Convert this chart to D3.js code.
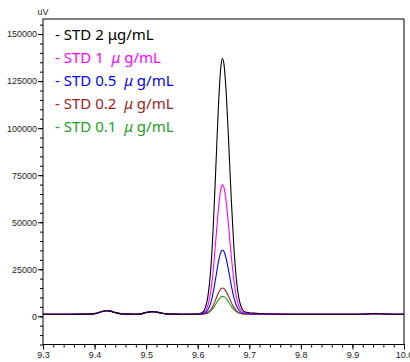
<!DOCTYPE html>
<html>
<head>
<meta charset="utf-8">
<script src="https://cdn.jsdelivr.net/npm/d3@7"></script>
<style>
  html, body { margin: 0; padding: 0; background: #fff; }
  svg { display: block; }
</style>
</head>
<body>
<svg id="chart" width="410" height="362"></svg>
<script>
// retention time (min)
const times = [9.30, 9.35, 9.39, 9.40, 9.41, 9.417, 9.423, 9.43, 9.44, 9.45, 9.46, 9.48, 9.49, 9.50, 9.511, 9.52, 9.53, 9.54, 9.55, 9.57, 9.60,
    9.61, 9.615, 9.62, 9.625, 9.63, 9.635, 9.64, 9.645, 9.648, 9.651, 9.655, 9.66, 9.665, 9.67, 9.675, 9.68, 9.685, 9.69, 9.70, 9.71, 9.72, 9.74,
    9.78, 9.82, 9.86, 9.90, 9.93, 9.945, 9.96, 9.98, 10.0];

// signal (uV) per standard
const std2 = [1100, 1100, 1150, 1400, 2100, 2700, 2950, 2750, 2000, 1400, 1150, 1100, 1300, 2000, 2450, 2200, 1700, 1300, 1150, 1100, 1160,
    2260, 4730, 10980, 24150, 46960, 78200, 110650, 132930, 137000, 133730, 119900, 92700, 62600, 37200, 19580, 9370, 4500, 2600, 1900, 1700, 1450, 1200,
    1100, 1050, 1050, 1100, 1250, 1400, 1250, 1100, 1050];
const std1 = [1100, 1100, 1150, 1400, 2150, 2800, 3050, 2850, 2050, 1400, 1150, 1100, 1300, 2050, 2550, 2250, 1700, 1300, 1150, 1100, 1100,
    1690, 2940, 6110, 12790, 24350, 40190, 56640, 67940, 70000, 68340, 61330, 47540, 32280, 19400, 10470, 5290, 2820, 1860, 1510, 1400, 1280, 1150,
    1100, 1050, 1050, 1100, 1250, 1400, 1250, 1100, 1050];
const std05 = [1100, 1100, 1150, 1400, 2100, 2700, 2950, 2750, 2000, 1400, 1150, 1100, 1300, 2000, 2450, 2200, 1700, 1300, 1150, 1100, 1100,
    1390, 2010, 3580, 6890, 12620, 20480, 28630, 34230, 35250, 34430, 30950, 24120, 16550, 10170, 5740, 3180, 1950, 1480, 1300, 1250, 1190, 1130,
    1100, 1050, 1050, 1100, 1250, 1400, 1250, 1100, 1050];
const std02 = [1100, 1100, 1150, 1400, 2100, 2700, 2950, 2750, 2000, 1400, 1150, 1100, 1300, 2000, 2450, 2200, 1700, 1300, 1150, 1100, 1100,
    1220, 1470, 2110, 3460, 5790, 8990, 12310, 14590, 15000, 14670, 13250, 10470, 7390, 4790, 2990, 1950, 1450, 1250, 1180, 1160, 1140, 1110,
    1100, 1050, 1050, 1100, 1250, 1400, 1250, 1100, 1050];
const std01 = [1100, 1100, 1150, 1400, 2100, 2700, 2950, 2750, 2000, 1400, 1150, 1100, 1300, 2000, 2450, 2200, 1700, 1300, 1150, 1100, 1100,
    1180, 1350, 1790, 2710, 4300, 6470, 8740, 10290, 10570, 10340, 9380, 7480, 5390, 3620, 2390, 1680, 1340, 1200, 1160, 1140, 1120, 1110,
    1100, 1050, 1050, 1100, 1250, 1400, 1250, 1100, 1050];

const seriesNames = ["STD 2", "STD 1", "STD 0.5", "STD 0.2", "STD 0.1"];
const seriesValues = [std2, std1, std05, std02, std01];
const seriesColors = ["#000000", "#ff00ff", "#0000ff", "#a02020", "#20a020"];

const xTicks = [9.3, 9.4, 9.5, 9.6, 9.7, 9.8, 9.9, 10.0];
const yTicks = [0, 25000, 50000, 75000, 100000, 125000, 150000];

function renderChart() {
    const svg = d3.select("#chart");
    const left = 43, right = 404, top = 19, bottom = 344.5;

    const x = d3.scaleLinear().domain([9.3, 10.0]).range([left, right]);
    const y = d3.scaleLinear().domain([-15000, 158000]).range([bottom, top]);

    svg.append("clipPath").attr("id", "plot")
        .append("rect")
        .attr("x", left).attr("y", top)
        .attr("width", right - left).attr("height", bottom - top);

    // minor ticks every 5000 / 0.02
    const yMinor = d3.range(-15000, 158001, 5000);
    const xMinor = d3.range(0, 36).map(i => 9.3 + i * 0.02);

    const yMinorAxis = svg.append("g")
        .attr("transform", `translate(${left},0)`)
        .call(d3.axisLeft(y).tickValues(yMinor).tickSize(3).tickFormat(""));
    const yAxis = svg.append("g")
        .attr("transform", `translate(${left},0)`)
        .call(d3.axisLeft(y).tickValues(yTicks).tickSize(5).tickPadding(1).tickFormat(d3.format("d")));

    const xMinorAxis = svg.append("g")
        .attr("transform", `translate(0,${bottom})`)
        .call(d3.axisBottom(x).tickValues(xMinor).tickSize(3).tickFormat(""));
    const xAxis = svg.append("g")
        .attr("transform", `translate(0,${bottom})`)
        .call(d3.axisBottom(x).tickValues(xTicks).tickSize(5).tickPadding(2).tickFormat(d3.format(".1f")));

    [yMinorAxis, yAxis, xMinorAxis, xAxis].forEach(a => {
        a.select(".domain").remove();
        a.selectAll("line").attr("stroke", "#000");
        a.selectAll("text")
            .attr("font-family", "'Liberation Sans', Arial, sans-serif")
            .attr("font-size", "9px")
            .attr("fill", "#222");
    });

    // lines, smallest first so the black trace sits on top
    const line = d3.line()
        .x((d, i) => x(times[i]))
        .y(d => y(d))
        .curve(d3.curveMonotoneX);

    const traces = svg.append("g").attr("clip-path", "url(#plot)");
    for (let k = seriesValues.length - 1; k >= 0; k--) {
        traces.append("path")
            .datum(seriesValues[k])
            .attr("fill", "none")
            .attr("stroke", seriesColors[k])
            .attr("stroke-width", 1.1)
            .attr("d", line);
    }

    // frame
    svg.append("rect")
        .attr("x", left).attr("y", top)
        .attr("width", right - left).attr("height", bottom - top)
        .attr("fill", "none")
        .attr("stroke", "#000")
        .attr("stroke-width", 1);

    svg.append("text")
        .attr("x", left).attr("y", 15)
        .attr("text-anchor", "middle")
        .attr("font-family", "'Liberation Sans', Arial, sans-serif")
        .attr("font-size", "9px")
        .attr("fill", "#222")
        .text("uV");

    // legend
    const legend = svg.append("g")
        .attr("font-family", "'Noto Sans', sans-serif")
        .attr("font-size", "15px");

    seriesNames.forEach((name, i) => {
        const t = legend.append("text")
            .attr("x", 55)
            .attr("y", 40 + i * 23)
            .attr("fill", seriesColors[i])
            .style("white-space", "pre");
        if (i === 0) {
            t.text(`- ${name} μg/mL`);
        } else {
            t.append("tspan").text(`- ${name}  `);
            t.append("tspan").attr("font-style", "italic").text("μ");
            t.append("tspan").text(" g/mL");
        }
    });
}

renderChart();
</script>
</body>
</html>
